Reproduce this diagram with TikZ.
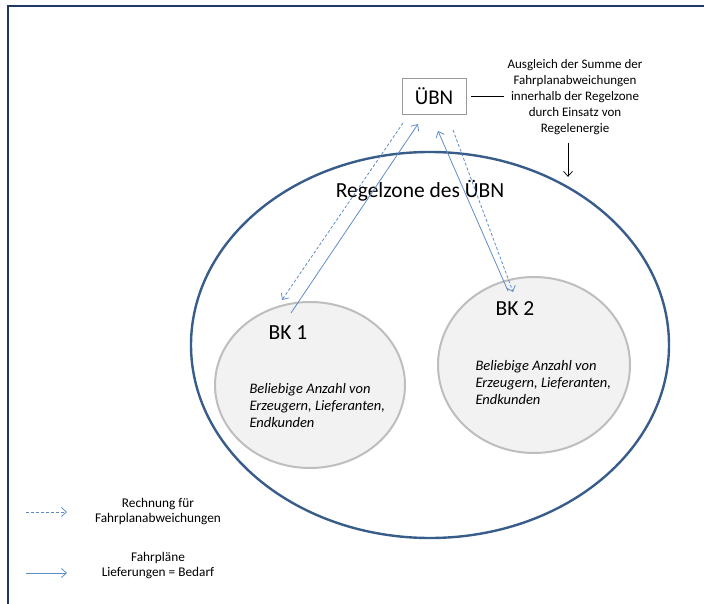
\documentclass[tikz,border=0pt]{standalone}
\usepackage{fontspec}
\setmainfont{Carlito}
\usetikzlibrary{positioning,arrows.meta,calc,shapes.geometric}
\definecolor{framenavy}{RGB}{31,56,100}
\definecolor{zoneblue}{RGB}{56,93,138}
\definecolor{flowblue}{RGB}{95,140,200}
\definecolor{bkline}{RGB}{190,190,190}
\definecolor{bkfill}{RGB}{242,242,242}
\tikzset{
    box/.style = {
        draw=gray!80,
        shape=rectangle,
        minimum height=36pt,
        minimum width=64pt,
        line width=0.8pt,
        font=\fontsize{21}{24}\selectfont
    },
    zone/.style = {
        draw=zoneblue,
        shape=ellipse,
        minimum width=478pt,
        minimum height=386pt,
        line width=2.4pt
    },
    group/.style = {
        draw=bkline,
        fill=bkfill,
        shape=ellipse,
        line width=2pt
    },
    title/.style = {
        font=\fontsize{21.5}{24}\selectfont
    },
    note/.style = {
        align=center,
        inner sep=3pt,
        font=\fontsize{13}{16}\selectfont
    },
    members/.style = {
        align=left,
        anchor=west,
        font=\itshape\fontsize{14.5}{17}\selectfont
    },
    key/.style = {
        align=center,
        font=\fontsize{13.3}{15}\selectfont
    },
    flow/.style = {
        draw=flowblue,
        line width=0.8pt,
        -{Straight Barb[length=5pt,width=9pt]}
    },
    bill/.style = {
        flow,
        dash pattern=on 3pt off 2pt
    },
}

\begin{document}
\begin{tikzpicture}[x=1pt,y=-1pt]
    \useasboundingbox (0,0) rectangle (704,604);
    % page frame
    \path[draw, framenavy, line width=1.6pt] (8,604) -- (8,6) -- (704,6);

    \node[zone] (zone) at (430,345) {};
    \node[title] (zonelabel) at (420,191) {Regelzone des ÜBN};

    \node[box] (ubn) at (434,96) {ÜBN};
    \node[note] (task) at (575,97) {Ausgleich der Summe der\\Fahrplanabweichungen\\innerhalb der Regelzone\\durch Einsatz von\\Regelenergie};
    \path[draw, line width=0.7pt] ([xshift=5pt]ubn.east) -- ++(33,0);
    \path[draw, line width=0.7pt, -{Straight Barb[length=5pt,width=9pt]}]
        ([xshift=-7pt,yshift=-5pt]task.south) -- ++(0,34);

    \node[group, minimum width=190pt, minimum height=166pt] (bk1) at (310,385) {};
    \node[group, minimum width=192pt, minimum height=176pt] (bk2) at (534,365) {};
    \node[title] (bk1label) at (288,333) {BK 1};
    \node[title] (bk2label) at (515,309) {BK 2};
    \node[members] (bk1text) at (246,406) {Beliebige Anzahl von\\Erzeugern, Lieferanten,\\Endkunden};
    \node[members] (bk2text) at (472,383) {Beliebige Anzahl von\\Erzeugern, Lieferanten,\\Endkunden};

    % Fahrplaene nach oben, Rechnungen nach unten
    \coordinate (bk1out) at (291,313);
    \coordinate (bk1in) at (282,300);
    \coordinate (bk2out) at (508,291);
    \coordinate (bk2in) at (513,292);
    \coordinate (ubnin1) at (418,124);
    \coordinate (ubnout1) at (403,123);
    \coordinate (ubnin2) at (438,131);
    \coordinate (ubnout2) at (453,130);
    \path[flow] (bk1out) -- (ubnin1);
    \path[bill] (ubnout1) -- (bk1in);
    \path[flow] (bk2out) -- (ubnin2);
    \path[bill] (ubnout2) -- (bk2in);

    % Legende
    \coordinate (billkey) at (26,512);
    \coordinate (flowkey) at (26,573);
    \node[key] (billtext) at (158,512) {Rechnung für\\Fahrplanabweichungen};
    \node[key] (flowtext) at (158,566) {Fahrpläne\\Lieferungen = Bedarf};
    \path[bill] (billkey) -- ++(41,0);
    \path[flow] (flowkey) -- ++(41,0);
\end{tikzpicture}
\end{document}
